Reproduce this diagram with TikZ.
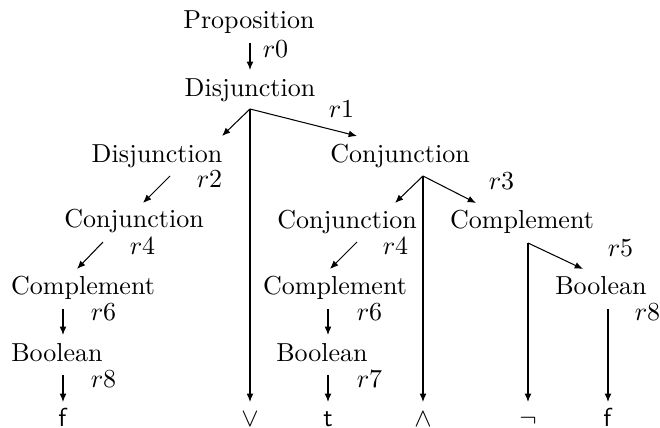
\documentclass[tikz,border=0pt]{standalone}
\usetikzlibrary{arrows.meta}
\begin{document}
\begin{tikzpicture}[x=0.3846pt,y=-0.3846pt,
  lbl/.style={anchor=base,inner sep=0pt,outer sep=0pt},
  rule/.style={anchor=base,inner sep=0pt,outer sep=0pt},
  leaf/.style={anchor=base,inner sep=0pt,outer sep=0pt},
  arr/.style={-{Latex[length=3.2pt,width=2.6pt]},line width=0.4pt}]
\useasboundingbox (0,0) rectangle (660,428);

% ---- nodes ----
\node[lbl] (prop) at (249,29) {Proposition};
\node[lbl] (dis1) at (250,97) {Disjunction};
\node[lbl] (dis2) at (157,163) {Disjunction};
\node[lbl] (con1) at (400,163) {Conjunction};
\node[lbl] (con2) at (134,228) {Conjunction};
\node[lbl] (con3) at (347,229) {Conjunction};
\node[lbl] (com1) at (522,229) {Complement};
\node[lbl] (com2) at (83,295) {Complement};
\node[lbl] (com3) at (335,295) {Complement};
\node[lbl] (bool1) at (601,295) {Boolean};
\node[lbl] (bool2) at (57,362) {Boolean};
\node[lbl] (bool3) at (322,362) {Boolean};

% ---- leaves ----
\node[leaf] (f1) at (63,426.5) {\textsf{f}};
\node[leaf] (or) at (250,426.5) {$\vee$};
\node[leaf] (t1) at (328,426.5) {\textsf{t}};
\node[leaf] (and) at (423,426.5) {$\wedge$};
\node[leaf] (not) at (528,426.5) {$\neg$};
\node[leaf] (f2) at (608,426.5) {\textsf{f}};

% ---- rule labels ----
\node[rule] (r0) at (275.5,58) {$r0$};
\node[rule] (r1) at (341.5,118) {$r1$};
\node[rule] (r2) at (209.5,188) {$r2$};
\node[rule] (r3) at (501.5,190) {$r3$};
\node[rule] (r4a) at (142.5,255) {$r4$};
\node[rule] (r4b) at (395.5,255) {$r4$};
\node[rule] (r5) at (620.5,257) {$r5$};
\node[rule] (r6a) at (103.5,321) {$r6$};
\node[rule] (r6b) at (369.5,321) {$r6$};
\node[rule] (r8b) at (647.5,321) {$r8$};
\node[rule] (r8a) at (103.5,388) {$r8$};
\node[rule] (r7) at (369.5,388) {$r7$};

% ---- connector end points ----
\coordinate (prop-b) at (250,43);
\coordinate (dis1-t) at (250,70);
\coordinate (dis1-b) at (250,109);
\coordinate (dis2-t) at (222,136);
\coordinate (con1-t) at (357,136);
\coordinate (or-t) at (250,402);
\coordinate (dis2-b) at (170,176);
\coordinate (con2-t) at (143,203);
\coordinate (con2-b) at (103,242);
\coordinate (com2-t) at (77,269);
\coordinate (com2-b) at (63,309);
\coordinate (bool2-t) at (63,335);
\coordinate (bool2-b) at (63,375);
\coordinate (f1-t) at (63,402);
\coordinate (con1-b) at (423,176);
\coordinate (con3-t) at (395,203);
\coordinate (com1-t) at (476,203);
\coordinate (and-t) at (423,402);
\coordinate (con3-b) at (357,242);
\coordinate (com3-t) at (330,269);
\coordinate (com3-b) at (328,309);
\coordinate (bool3-t) at (328,335);
\coordinate (bool3-b) at (328,375);
\coordinate (t1-t) at (328,402);
\coordinate (com1-b) at (528,243);
\coordinate (bool1-t) at (583,269);
\coordinate (not-t) at (528,402);
\coordinate (bool1-b) at (608,309);
\coordinate (f2-t) at (608,402);

% ---- connectors ----
\draw[arr] (prop-b) -- (dis1-t);
\draw[arr] (dis1-b) -- (dis2-t);
\draw[arr] (dis1-b) -- (con1-t);
\draw[arr] (dis1-b) -- (or-t);
\draw[arr] (dis2-b) -- (con2-t);
\draw[arr] (con2-b) -- (com2-t);
\draw[arr] (com2-b) -- (bool2-t);
\draw[arr] (bool2-b) -- (f1-t);
\draw[arr] (con1-b) -- (con3-t);
\draw[arr] (con1-b) -- (com1-t);
\draw[arr] (con1-b) -- (and-t);
\draw[arr] (con3-b) -- (com3-t);
\draw[arr] (com3-b) -- (bool3-t);
\draw[arr] (bool3-b) -- (t1-t);
\draw[arr] (com1-b) -- (bool1-t);
\draw[arr] (com1-b) -- (not-t);
\draw[arr] (bool1-b) -- (f2-t);
\end{tikzpicture}
\end{document}
